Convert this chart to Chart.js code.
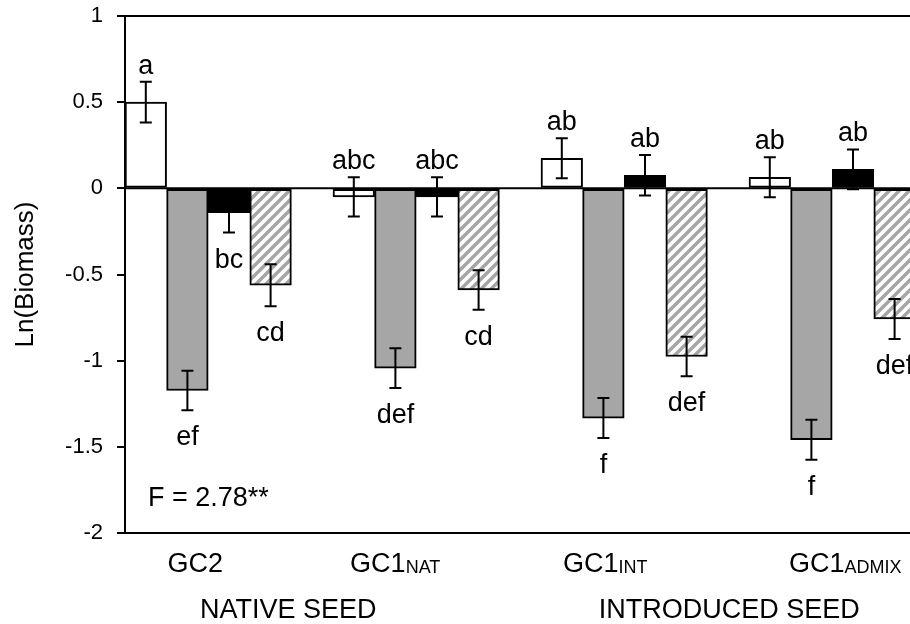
<!DOCTYPE html>
<html>
<head>
<meta charset="utf-8">
<title>Ln(Biomass)</title>
<script src="https://cdn.jsdelivr.net/npm/chart.js@4.4.1/dist/chart.umd.min.js"></script>
<style>
  body { margin: 0; overflow: hidden; background: #fff; }
  #wrap { width: 1000px; height: 624px; }
</style>
</head>
<body>
<div id="wrap"><canvas id="biomassChart" width="1000" height="624"></canvas></div>
<script>
const FONT = "'Liberation Sans', Arial, sans-serif";

// genotype labels (main text + subscript) and seed-source groups
const genotypes = ['GC2', 'GC1', 'GC1', 'GC1'];
const genotypeSubs = ['', 'NAT', 'INT', 'ADMIX'];
const seedSources = ['NATIVE SEED', 'INTRODUCED SEED'];
const yTicks = [1, 0.5, 0, -0.5, -1, -1.5, -2];

// means and standard errors, one entry per genotype
const openMeans  = [0.50, -0.05, 0.174, 0.064];
const greyMeans  = [-1.173, -1.043, -1.333, -1.459];
const solidMeans = [-0.141, -0.05, 0.076, 0.11];
const hatchMeans = [-0.562, -0.59, -0.976, -0.758];

const openErr  = [0.118, 0.114, 0.116, 0.116];
const greyErr  = [0.115, 0.115, 0.116, 0.116];
const solidErr = [0.116, 0.114, 0.118, 0.116];
const hatchErr = [0.122, 0.115, 0.115, 0.116];

// Tukey letters
const openLetters  = ['a', 'abc', 'ab', 'ab'];
const greyLetters  = ['ef', 'def', 'f', 'f'];
const solidLetters = ['bc', 'abc', 'ab', 'ab'];
const hatchLetters = ['cd', 'cd', 'def', 'def'];

const statText = 'F = 2.78**';

// small horizontal nudges for the axis captions (px)
const genotypeNudge = [-13, -21, -19, 13];
const seedNudge = [-24, 1];

const canvas = document.getElementById('biomassChart');
const ctx = canvas.getContext('2d');

function hatchPattern() {
  const c = document.createElement('canvas');
  c.width = c.height = 10;
  const g = c.getContext('2d');
  g.fillStyle = '#fff';
  g.fillRect(0, 0, 10, 10);
  g.strokeStyle = '#a6a6a6';
  g.lineWidth = 3.5;
  g.beginPath();
  g.moveTo(-2, 12); g.lineTo(12, -2);
  g.moveTo(-7, 7); g.lineTo(7, -7);
  g.moveTo(3, 17); g.lineTo(17, 3);
  g.stroke();
  return ctx.createPattern(c, 'repeat');
}

const bar = (label, data, fill, err, letters) => ({
  label, data, err, letters,
  backgroundColor: fill,
  borderColor: '#000',
  borderWidth: 2,
  borderSkipped: false
});

const extras = {
  id: 'extras',
  beforeDatasetsDraw(chart) {
    const g = chart.ctx, a = chart.chartArea, y = chart.scales.y;
    g.save();
    g.strokeStyle = '#000';
    g.lineWidth = 2;
    g.beginPath();
    g.moveTo(a.left, a.top); g.lineTo(a.right, a.top);
    g.moveTo(a.left, y.getPixelForValue(0)); g.lineTo(a.right, y.getPixelForValue(0));
    g.stroke();
    g.restore();
  },
  afterDatasetsDraw(chart) {
    const g = chart.ctx, a = chart.chartArea, y = chart.scales.y;
    g.save();
    g.strokeStyle = '#000';
    g.fillStyle = '#000';
    g.lineWidth = 2;
    g.textAlign = 'center';
    g.textBaseline = 'alphabetic';
    g.font = `27px ${FONT}`;
    chart.data.datasets.forEach((ds, d) => {
      if (!ds.err) return;
      chart.getDatasetMeta(d).data.forEach((el, i) => {
        const v = ds.data[i], e = ds.err[i];
        const top = y.getPixelForValue(v + e), bot = y.getPixelForValue(v - e);
        g.beginPath();
        g.moveTo(el.x, top); g.lineTo(el.x, bot);
        g.moveTo(el.x - 6, top); g.lineTo(el.x + 6, top);
        g.moveTo(el.x - 6, bot); g.lineTo(el.x + 6, bot);
        g.stroke();
        if (v + e > 0) g.fillText(ds.letters[i], el.x, top - 8);
        else g.fillText(ds.letters[i], el.x, bot + 35);
      });
    });

    g.textAlign = 'left';
    g.fillText(statText, a.left + 23, a.bottom - 27);

    // genotype captions with subscripts
    const first = chart.getDatasetMeta(0).data, last = chart.getDatasetMeta(3).data;
    const centres = first.map((el, i) => (el.x + last[i].x) / 2);
    centres.forEach((cx, i) => {
      g.font = `27px ${FONT}`;
      const w1 = g.measureText(genotypes[i]).width;
      g.font = `18px ${FONT}`;
      const w2 = genotypeSubs[i] ? g.measureText(genotypeSubs[i]).width : 0;
      const x0 = cx + genotypeNudge[i] - (w1 + w2) / 2;
      const base = a.bottom + 39;
      g.font = `27px ${FONT}`;
      g.fillText(genotypes[i], x0, base);
      g.font = `18px ${FONT}`;
      g.fillText(genotypeSubs[i], x0 + w1, base + 1);
    });

    g.textAlign = 'center';
    g.font = `27px ${FONT}`;
    seedSources.forEach((s, k) => {
      const cx = (centres[2 * k] + centres[2 * k + 1]) / 2 + seedNudge[k];
      g.fillText(s, cx, a.bottom + 85);
    });
    g.restore();
  }
};

new Chart(ctx, {
  type: 'bar',
  data: {
    labels: genotypes.map((gname, i) => gname + genotypeSubs[i]),
    datasets: [
      bar('open', openMeans, '#ffffff', openErr, openLetters),
      bar('grey', greyMeans, '#a6a6a6', greyErr, greyLetters),
      bar('solid', solidMeans, '#000000', solidErr, solidLetters),
      bar('hatched', hatchMeans, hatchPattern(), hatchErr, hatchLetters),
      { label: 'spacer', data: genotypes.map(() => null) }
    ]
  },
  options: {
    responsive: false,
    devicePixelRatio: 1,
    animation: false,
    layout: { padding: { top: 16, right: 43, left: 0, bottom: 0 } },
    datasets: { bar: { categoryPercentage: 1, barPercentage: 1 } },
    plugins: { legend: { display: false }, tooltip: { enabled: false } },
    scales: {
      x: {
        grid: { display: false },
        ticks: { display: false },
        border: { color: '#000', width: 2 },
        afterFit: s => { s.height = 91; }
      },
      y: {
        min: Math.min(...yTicks),
        max: Math.max(...yTicks),
        ticks: {
          stepSize: 0.5,
          color: '#000',
          padding: 14,
          font: { family: FONT, size: 22 },
          callback: v => String(v)
        },
        grid: { drawOnChartArea: false, color: '#000', lineWidth: 2, tickLength: 8 },
        border: { color: '#000', width: 2 },
        title: {
          display: true,
          text: 'Ln(Biomass)',
          color: '#000',
          font: { family: FONT, size: 26 },
          padding: { top: 10, bottom: 0 }
        },
        afterFit: s => {
          s.width = 125;
          s.paddingTop = 0;
          s.paddingBottom = 0;
        }
      }
    }
  },
  plugins: [extras]
});
</script>
</body>
</html>
